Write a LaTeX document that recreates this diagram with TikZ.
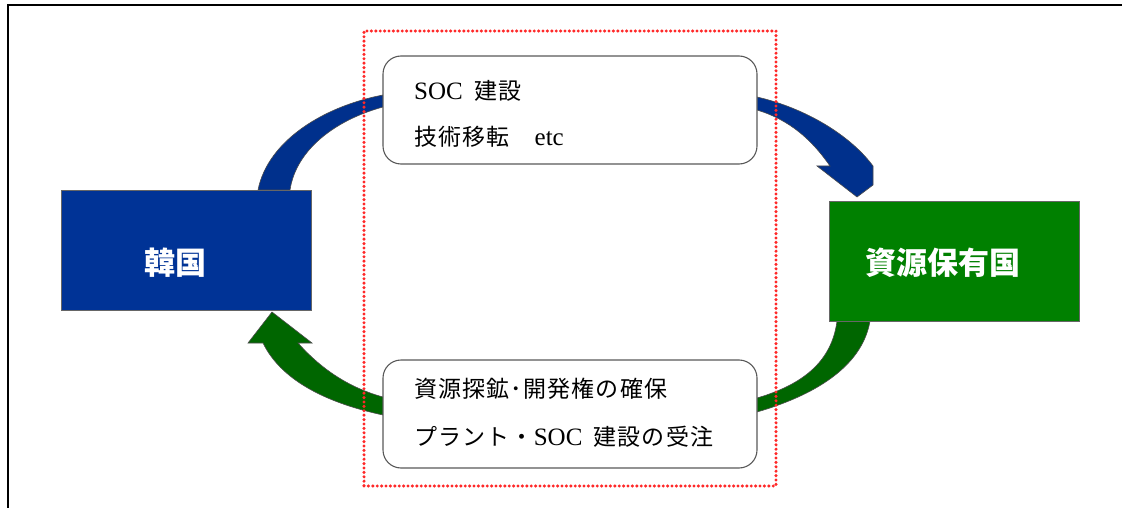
\documentclass[tikz,border=0pt]{standalone}
\usepackage{fontspec}
\setmainfont{Liberation Serif}
\newfontfamily\cjk{Noto Sans CJK JP}
\newfontfamily\cjkt{Noto Sans CJK JP}[LetterSpace=5]
\definecolor{korblue}{RGB}{0,51,150}
\definecolor{arrblue}{RGB}{0,48,140}
\definecolor{resgreen}{RGB}{0,128,0}
\definecolor{arrgreen}{RGB}{0,102,0}
\definecolor{dotred}{RGB}{255,40,40}
\tikzset{
  bigbox/.style={draw=black!60, line width=0.8pt, minimum width=250pt, minimum height=120pt, inner sep=0pt},
  biglabel/.style={text=white, font=\cjk\bfseries\fontsize{31}{36}\selectfont, inner sep=0pt},
  roundbox/.style={draw=black!65, line width=1.1pt, fill=white, rounded corners=18pt, minimum width=374pt, minimum height=108pt, inner sep=0pt},
  boxtext/.style={anchor=west, inner sep=0pt, font=\fontsize{25}{30}\selectfont},
  arrowband/.style={draw=black!70, line width=0.6pt},
  dotframe/.style={draw=dotred, line width=3.4pt, line cap=round, dash pattern=on 0pt off 4.4pt},
}
\begin{document}
\begin{tikzpicture}[x=1pt,y=-1pt]
\useasboundingbox (0,0) rectangle (1122,508);
% outer frame
\coordinate (fbl) at (8,508);
\coordinate (ftl) at (8,5);
\coordinate (ftr) at (1122,5);
\draw[line width=1.3pt] (fbl) -- (ftl) -- (ftr);

% blue arrow (Korea -> resource country)
\fill[arrblue, arrowband] (258,190) .. controls (268,140) and (325,106) .. (383,95)
  -- (757,97) .. controls (805,108) and (850,135) .. (873,166)
  -- (873,185) -- (857,197) -- (817,166) -- (830,166)
  .. controls (812,140) and (790,120) .. (757,110)
  -- (383,107) .. controls (335,120) and (296,150) .. (290,190) -- cycle;

% green arrow (resource country -> Korea)
\fill[arrgreen, arrowband] (870,321) .. controls (862,368) and (812,396) .. (757,412)
  -- (383,415) .. controls (322,402) and (280,378) .. (263,343)
  -- (248,343) -- (272,312) -- (312,343) -- (298,343)
  .. controls (322,370) and (350,388) .. (383,397)
  -- (757,398) .. controls (805,384) and (832,360) .. (837,321) -- cycle;

% country boxes
\node[bigbox, fill=korblue] (kor) at (186,250) {};
\node[biglabel] (korlabel) at (175,263) {韓国};
\node[bigbox, fill=resgreen] (res) at (954,261) {};
\node[biglabel] (reslabel) at (943,263) {資源保有国};

% red dotted frame
\node[dotframe, minimum width=412pt, minimum height=455pt, inner sep=0pt] (frame) at (570,258.5) {};

% white text boxes
\node[roundbox] (top) at (570,110) {};
\node[boxtext] (t1) at (414,91) {SOC\hspace{0.45em}{\fontsize{23}{28}\selectfont\cjkt 建設}};
\node[boxtext] (t2) at (414,137) {{\fontsize{23}{28}\selectfont\cjkt 技術移転}\hspace{1.0em}etc};
\node[roundbox] (bot) at (570,414) {};
\node[boxtext] (b1) at (414,389) {\fontsize{23}{28}\selectfont\cjkt 資源探鉱･開発権の確保};
\node[boxtext] (b2) at (414,437) {{\fontsize{23}{28}\selectfont\cjkt プラント・}SOC\hspace{0.45em}{\fontsize{23}{28}\selectfont\cjkt 建設の受注}};
\end{tikzpicture}
\end{document}
